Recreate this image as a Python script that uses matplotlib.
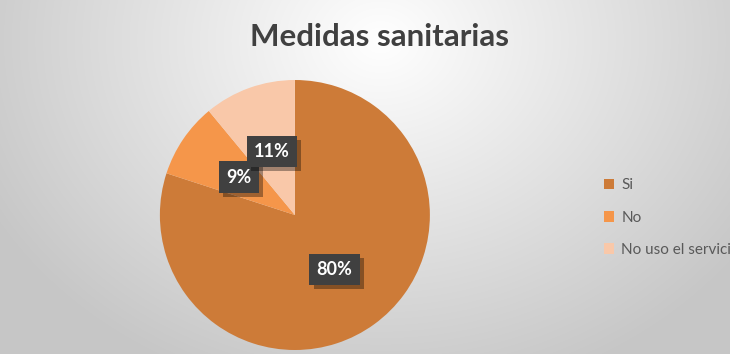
import matplotlib
matplotlib.use("Agg")
from matplotlib import pyplot as plt
from matplotlib import patheffects as pe
import numpy as np

labels = ["Si", "No", "No uso el servicio"]
values = [80, 9, 11]
colors = ["#CD7B38", "#F5964A", "#F9C8A9"]
title = "Medidas sanitarias"

plt.rcParams["font.family"] = ["Lato", "DejaVu Sans"]

fig = plt.figure(figsize=(7.3, 3.54), dpi=100)

# radial background gradient
bg = fig.add_axes([0, 0, 1, 1])
yy, xx = np.mgrid[0:354, 0:730]
t = np.sqrt(((xx - 380) / 400.0) ** 2 + ((yy - 40) / 330.0) ** 2)
shade = np.clip(1.0 - 0.2 * t, 0.78, 1.0)
bg.imshow(np.dstack([shade, shade, shade]), aspect="auto", extent=[0, 1, 0, 1])
bg.set_axis_off()

ax = fig.add_axes([0.219, 0.0113, 0.3699, 0.7627])
wedges, texts, autotexts = ax.pie(
    values, colors=colors, startangle=90, counterclock=False,
    autopct="%d%%", pctdistance=0.5,
    wedgeprops=dict(linewidth=0),
    textprops=dict(color="white", fontsize=13, fontweight="bold"),
)
ax.set_xlim(-1, 1)
ax.set_ylim(-1, 1)
ax.set_aspect("equal")
for at in autotexts:
    at.set_bbox(dict(boxstyle="square,pad=0.4", facecolor="#404040", edgecolor="none"))
    at.get_bbox_patch().set_path_effects(
        [pe.SimplePatchShadow(offset=(3, -3), shadow_rgbFace="#000000", alpha=0.35), pe.Normal()])

fig.text(0.52, 0.895, title, ha="center", va="center", fontsize=22.5,
         fontweight="bold", color="#404040")

leg = fig.legend(wedges, labels, loc="center left", bbox_to_anchor=(0.808, 0.385),
                 frameon=False, fontsize=11, labelspacing=1.2,
                 handlelength=0.7, handleheight=0.7, handletextpad=0.45)
for txt in leg.get_texts():
    txt.set_color("#595959")

fig.savefig("out.png", dpi=100)
